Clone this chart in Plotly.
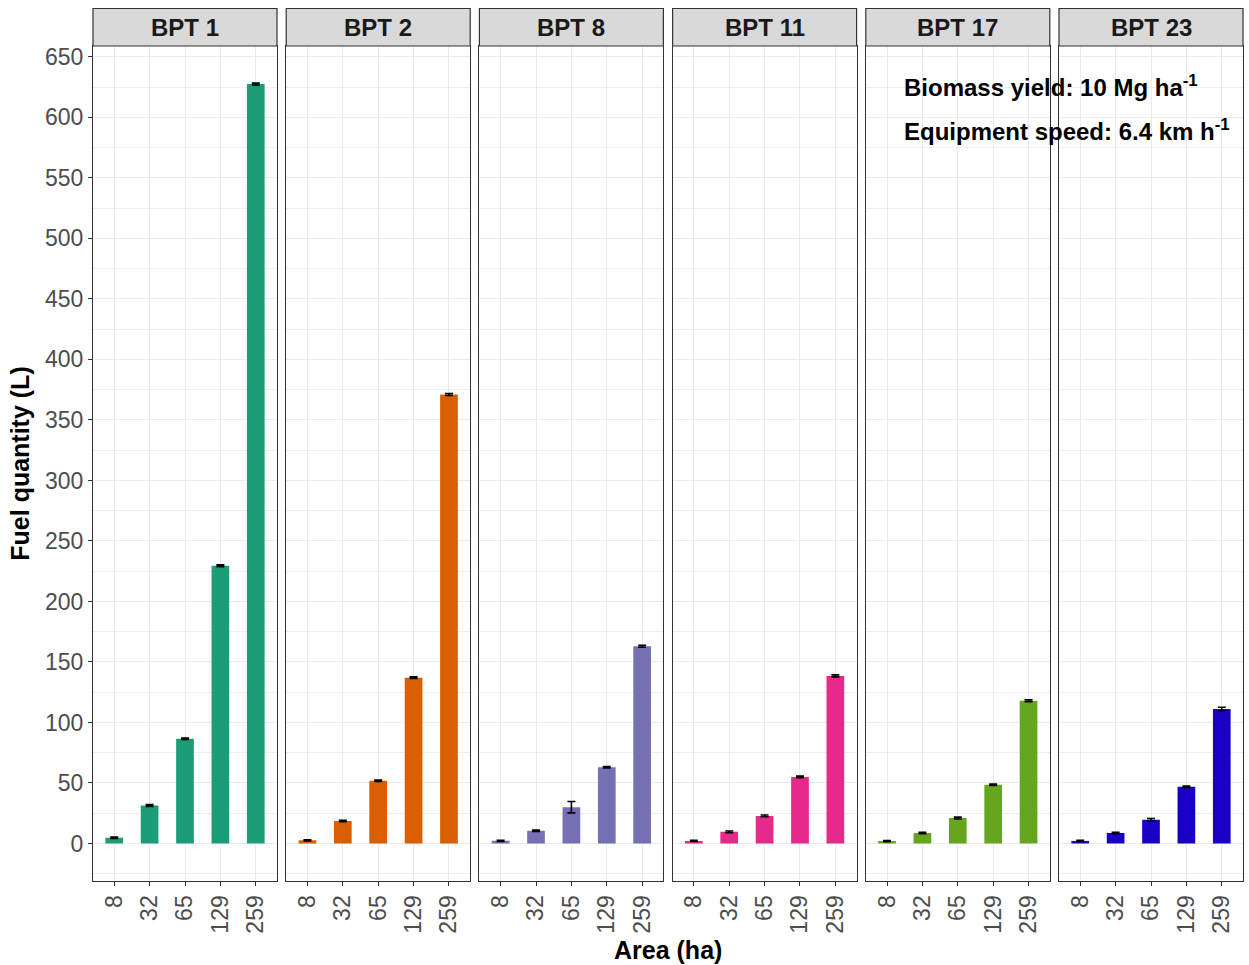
import plotly.graph_objects as go

panels = ["BPT 1", "BPT 2", "BPT 8", "BPT 11", "BPT 17", "BPT 23"]
areas = ["8", "32", "65", "129", "259"]
fuel = {
    "BPT 1": [4.8, 31.4, 86.5, 229.5, 627.5],
    "BPT 2": [2.6, 18.6, 51.8, 137.0, 371.0],
    "BPT 8": [2.2, 10.5, 30.0, 63.0, 163.0],
    "BPT 11": [2.1, 9.6, 22.8, 55.0, 138.5],
    "BPT 17": [2.0, 8.7, 21.0, 48.5, 118.0],
    "BPT 23": [2.1, 8.7, 19.6, 46.8, 111.2],
}
err = {
    "BPT 1": [0.6, 0.7, 0.6, 0.7, 0.8],
    "BPT 2": [0.5, 0.6, 0.6, 0.7, 0.8],
    "BPT 8": [0.5, 0.6, 4.7, 0.6, 0.8],
    "BPT 11": [0.5, 0.7, 0.7, 0.7, 0.8],
    "BPT 17": [0.5, 0.6, 0.8, 0.6, 0.8],
    "BPT 23": [0.5, 0.6, 1.0, 0.6, 1.4],
}
colors = ["#1B9E77", "#D95F02", "#7570B3", "#E7298A", "#66A61E", "#1A00C6"]
y_ticks = list(range(0, 651, 50))

FONT = "Liberation Sans, Arial, Helvetica, sans-serif"
W, H = 1249, 965
L, R, T, B = 93, 6, 46, 84
pw = W - L - R
ph = H - T - B
panel_w = 184.0
step = (pw - panel_w) / 5
strip_h = 37.5

fig = go.Figure()
for i, p in enumerate(panels):
    sfx = "" if i == 0 else str(i + 1)
    fig.add_trace(go.Bar(
        x=areas, y=fuel[p], width=0.5,
        marker=dict(color=colors[i], line=dict(width=0)),
        error_y=dict(type="data", array=err[p], color="black", thickness=1.6, width=4),
        xaxis="x" + sfx, yaxis="y" + sfx, showlegend=False,
    ))
    x0 = step * i / pw
    x1 = min(1.0, (step * i + panel_w) / pw)
    fig.layout["xaxis" + sfx] = dict(
        domain=[x0, x1], anchor="y" + sfx, type="category",
        categoryorder="array", categoryarray=areas,
        range=[-0.6, 4.6], showgrid=True, gridcolor="#EBEBEB", gridwidth=1.3,
        showline=True, mirror=True, linecolor="#333333", linewidth=1.2,
        ticks="outside", ticklen=4, tickcolor="#333333", tickwidth=1,
        tickangle=-90, tickfont=dict(family=FONT, size=23, color="#4D4D4D"),
        zeroline=False, fixedrange=True,
    )
    ya = dict(
        anchor="x" + sfx, domain=[0, 1], range=[-31, 659],
        tickvals=y_ticks, showgrid=True, gridcolor="#EBEBEB", gridwidth=1.3,
        minor=dict(dtick=25, tick0=25, showgrid=True, gridcolor="#EEEEEE", gridwidth=0.8),
        showline=True, mirror=True, linecolor="#333333", linewidth=1.2,
        zeroline=False,
    )
    if i == 0:
        ya.update(ticks="outside", ticklen=4, tickcolor="#333333", tickwidth=1,
                  tickfont=dict(family=FONT, size=23, color="#4D4D4D"),
                  title=dict(text="<b>Fuel quantity (L)</b>", standoff=8,
                             font=dict(family=FONT, size=25, color="black")))
    else:
        ya.update(matches="y", showticklabels=False, ticks="")
    fig.layout["yaxis" + sfx] = ya
    # strip
    fig.add_shape(type="rect", xref="paper", yref="paper",
                  x0=x0, x1=x1, y0=1, y1=1 + strip_h / ph,
                  fillcolor="#D9D9D9", line=dict(color="#333333", width=1.2))
    fig.add_annotation(text="<b>%s</b>" % p, xref="paper", yref="paper",
                       x=(x0 + x1) / 2, y=1 + strip_h / ph / 2, showarrow=False,
                       xanchor="center", yanchor="middle",
                       font=dict(family=FONT, size=24, color="#1A1A1A"))

fig.add_annotation(text="<b>Area (ha)</b>", xref="paper", yref="paper",
                   x=0.5, y=(H - 950 - B) / ph, xanchor="center", yanchor="middle",
                   showarrow=False, font=dict(family=FONT, size=25, color="black"))
fig.add_annotation(text="<b>Biomass yield: 10 Mg ha<sup>-1</sup></b>", xref="paper", yref="paper",
                   x=(902 - L) / pw, y=(H - B - 86) / ph, xanchor="left", yanchor="middle",
                   showarrow=False, font=dict(family=FONT, size=24, color="black"))
fig.add_annotation(text="<b>Equipment speed: 6.4 km h<sup>-1</sup></b>", xref="paper", yref="paper",
                   x=(902 - L) / pw, y=(H - B - 130) / ph, xanchor="left", yanchor="middle",
                   showarrow=False, font=dict(family=FONT, size=24, color="black"))

fig.update_layout(
    width=W, height=H, margin=dict(l=L, r=R, t=T, b=B),
    paper_bgcolor="white", plot_bgcolor="white", bargap=0.5,
    font=dict(family=FONT),
)
fig.write_html("out.html")
